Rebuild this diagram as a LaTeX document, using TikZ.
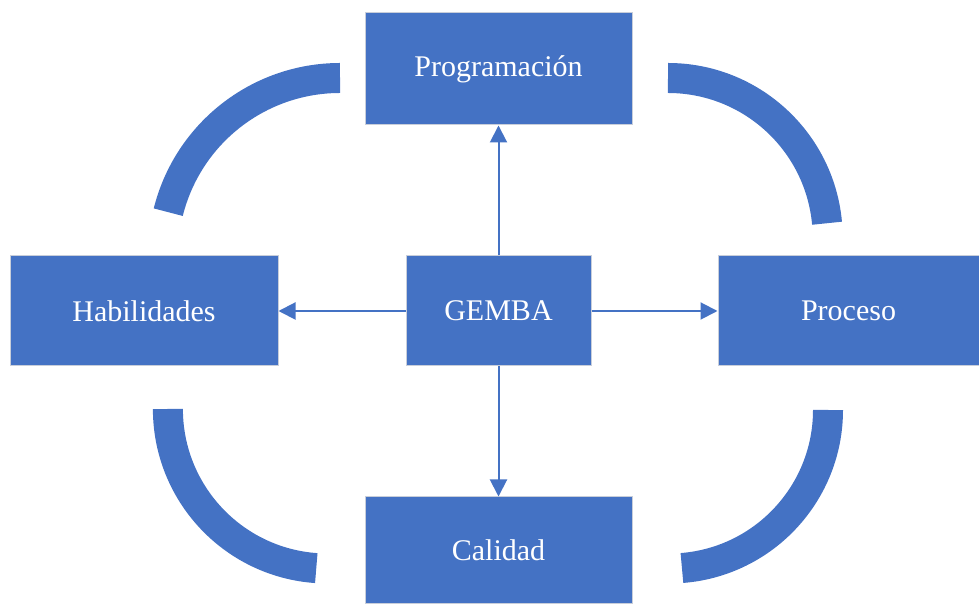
\documentclass[tikz,border=0pt]{standalone}
\usepackage{fontspec}
\setmainfont{Liberation Serif}
\usetikzlibrary{arrows.meta}
\definecolor{boxblue}{RGB}{68,114,196}
\definecolor{rimgray}{RGB}{200,206,218}
\begin{document}
\begin{tikzpicture}[x=1pt,y=1pt,
  box/.style={rectangle, fill=boxblue, draw=rimgray, line width=1pt,
    inner sep=0pt, text=white, font=\fontsize{30}{36}\selectfont},
  link/.style={draw=boxblue, line width=2pt,
    -{Triangle[length=17pt,width=17pt]}},
  band/.style={draw=boxblue, line width=30pt, line cap=butt}]
\useasboundingbox (0,0) rectangle (979,604);

% boxes
\node[box, minimum width=267pt, minimum height=112pt] (prog) at (498.5,535) {Programación};
\node[box, minimum width=185pt, minimum height=110pt] (gemba) at (498.5,293) {GEMBA};
\node[box, minimum width=268pt, minimum height=110pt] (hab) at (144,293) {Habilidades};
\node[box, minimum width=261pt, minimum height=110pt] (proc) at (848.5,293) {Proceso};
\node[box, minimum width=267pt, minimum height=107pt] (cal) at (498.5,53.5) {Calidad};

% arrows out of the centre box
\draw[link] (gemba.north) -- (prog.south);
\draw[link] (gemba.south) -- (cal.north);
\draw[link] (gemba.west) -- (hab.east);
\draw[link] (gemba.east) -- (proc.west);

% curved bands in the corners
\draw[band] (340,526) arc[start angle=90, end angle=166, radius=177];
\draw[band] (668,526) arc[start angle=90, end angle=5.2, radius=159.7];
\draw[band] (167.9,195) arc[start angle=180, end angle=266, radius=159.5];
\draw[band] (828,194) arc[start angle=0, end angle=-85.5, radius=158.5];
\end{tikzpicture}
\end{document}
